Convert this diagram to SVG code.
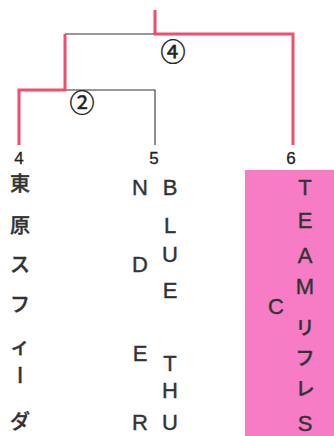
<svg xmlns="http://www.w3.org/2000/svg" width="334" height="436" viewBox="0 0 334 436">
<style>
.red{fill:none;stroke:#f24d6e;stroke-width:3;stroke-linejoin:miter;stroke-linecap:butt}
.blk{fill:none;stroke:#333;stroke-width:1.1}
.num{font-family:"Liberation Sans",Arial,sans-serif;font-size:17px;fill:#222;text-anchor:middle;stroke:#222;stroke-width:0.3}
.lat{font-family:"Liberation Sans",Arial,sans-serif;font-size:22px;fill:#333;text-anchor:middle;stroke:#333;stroke-width:0.4}
.jp{font-family:"Noto Sans CJK JP","Noto Sans",sans-serif;font-size:20px;font-weight:500;fill:#333;text-anchor:middle;dominant-baseline:central;stroke:#333;stroke-width:0.4}
.jk{font-family:"Noto Sans CJK JP","Noto Sans",sans-serif;font-size:19px;font-weight:500;fill:#333;text-anchor:middle;dominant-baseline:central;stroke:#333;stroke-width:0.4}
.cir{font-family:"Noto Sans CJK JP","DejaVu Sans",sans-serif;font-size:25px;fill:#222;text-anchor:middle;dominant-baseline:central;stroke:#222;stroke-width:0.5}
</style>
<rect x="0" y="0" width="334" height="436" fill="#ffffff"/>
<rect id="highlight" x="245" y="170" width="89" height="266" fill="#f57cc5"/>
<g id="connectors">
<path class="blk" d="M65,34 H155"/>
<path class="blk" d="M65,90 H155 V145"/>
<path class="red" d="M155,10 V34 H293 V145"/>
<path class="red" d="M65,34 V90 H19 V145"/>
</g>
<g id="match4"><text class="cir" x="173" y="50">④</text></g>
<g id="match2"><text class="cir" x="82" y="101">②</text></g>
<g id="team4">
<text class="num" x="19" y="164">4</text>
<text class="jp" x="20" y="182">東</text>
<text class="jp" x="20" y="224">原</text>
<text class="jp" x="20" y="263">ス</text>
<text class="jp" x="20" y="303">フ</text>
<text class="jp" x="20" y="345">ィ</text>
<text class="jp" transform="translate(20,375) rotate(90)" x="0" y="0">ー</text>
<text class="jp" x="20" y="420">ダ</text>
</g>
<g id="team5">
<text class="num" x="154" y="164">5</text>
<text class="lat" x="170" y="195">B</text>
<text class="lat" x="170" y="233">L</text>
<text class="lat" x="170" y="262">U</text>
<text class="lat" x="170" y="298">E</text>
<text class="lat" x="170" y="371">T</text>
<text class="lat" x="170" y="398">H</text>
<text class="lat" x="170" y="430">U</text>
<text class="lat" x="140" y="195">N</text>
<text class="lat" x="140" y="272">D</text>
<text class="lat" x="140" y="361">E</text>
<text class="lat" x="140" y="430">R</text>
</g>
<g id="team6">
<text class="num" x="291" y="164">6</text>
<text class="lat" x="305" y="195">T</text>
<text class="lat" x="305" y="228">E</text>
<text class="lat" x="305" y="263">A</text>
<text class="lat" x="305" y="294">M</text>
<text class="jk" x="305" y="326">リ</text>
<text class="jk" x="305" y="356">フ</text>
<text class="jk" x="305" y="387">レ</text>
<text class="lat" x="305" y="431">S</text>
<text class="lat" x="276" y="314">C</text>
</g>
</svg>
